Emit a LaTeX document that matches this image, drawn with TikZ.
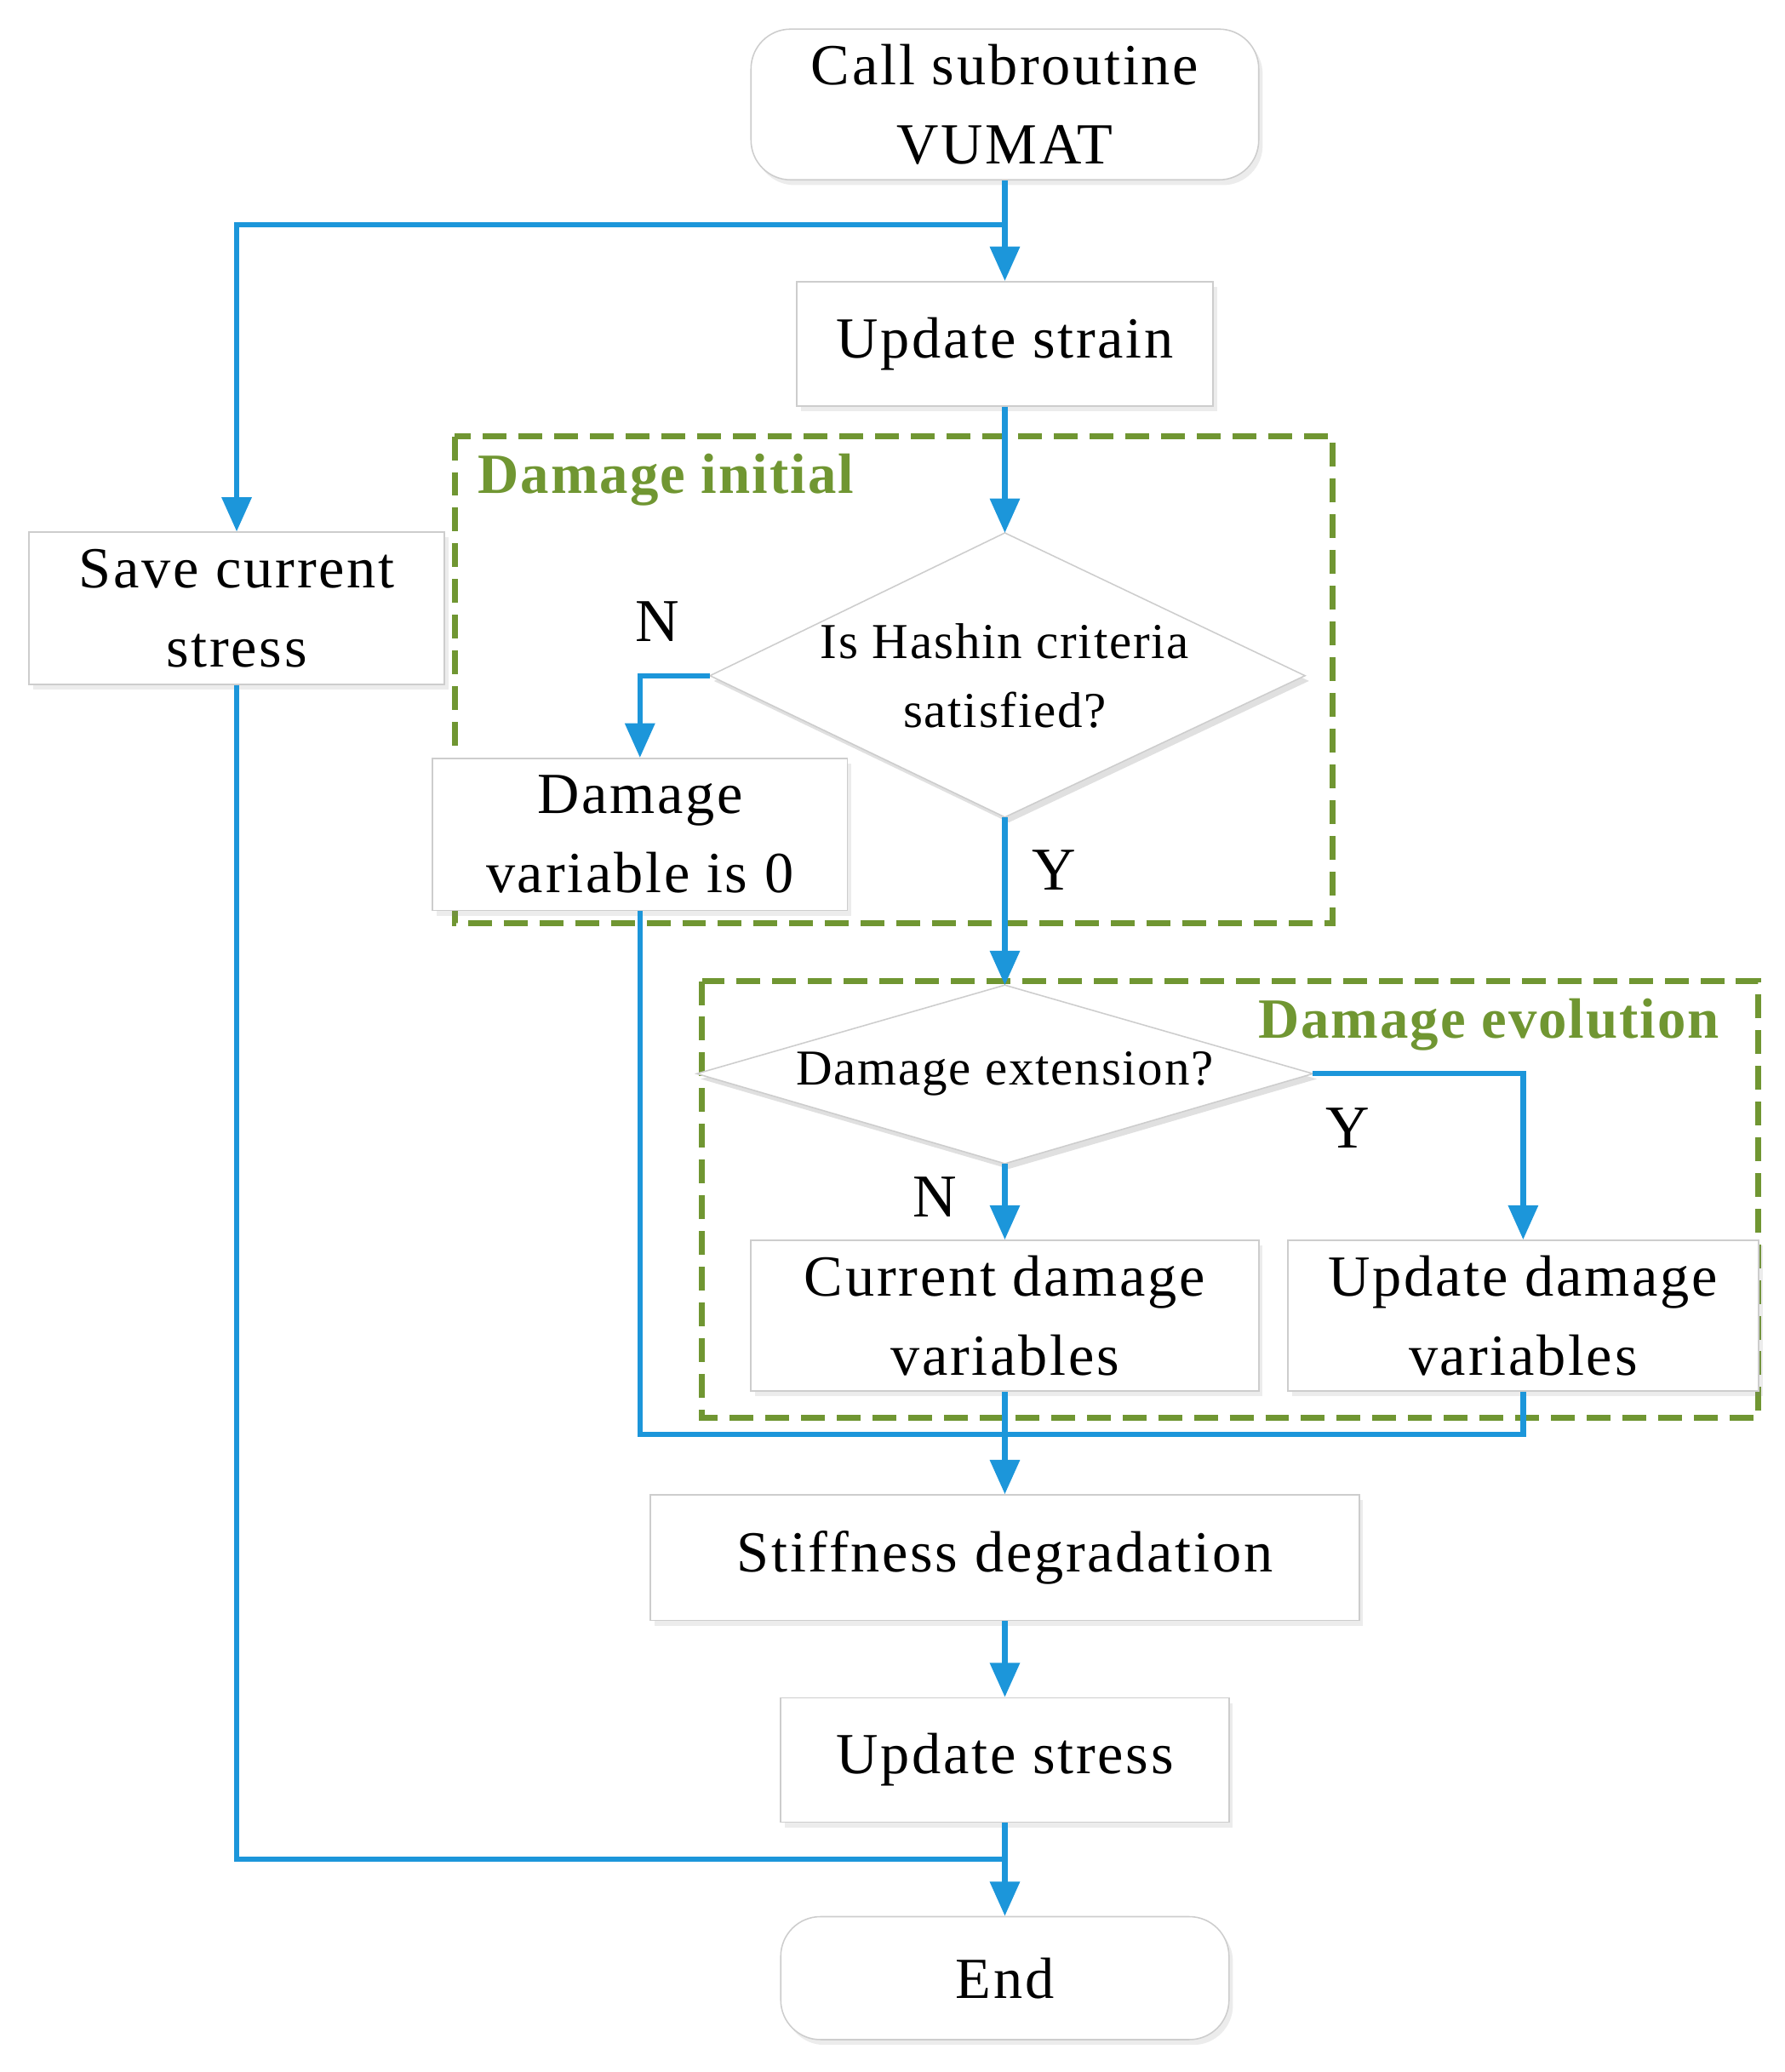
\documentclass[tikz,border=0pt]{standalone}
\usepackage{fontspec}
\setmainfont{Liberation Serif}
\usetikzlibrary{arrows.meta,shadows}
\definecolor{fblue}{RGB}{28,150,218}
\definecolor{fgreen}{RGB}{112,150,50}
\definecolor{bgray}{RGB}{205,205,205}
\begin{document}
\begin{tikzpicture}[x=1pt,y=-1pt,
  box/.style={draw=bgray,line width=1pt,fill=white,align=center,font=\fontsize{44}{60}\selectfont\addfontfeatures{LetterSpace=4},
    drop shadow={shadow xshift=3pt,shadow yshift=-4pt,opacity=0.15},inner sep=0pt},
  rbox/.style={box,rounded corners=30pt},
  con/.style={draw=fblue,line width=4pt},
  arr/.style={con,-{Triangle[length=26pt,width=22pt]}},
  grp/.style={draw=fgreen,line width=4.5pt,dash pattern=on 18pt off 9pt},
  glab/.style={text=fgreen,font=\fontsize{43}{48}\selectfont\bfseries\addfontfeatures{LetterSpace=3}},
  lab/.style={font=\fontsize{46}{50}\selectfont},
  dtext/.style={align=center,font=\fontsize{38}{52}\selectfont\addfontfeatures{LetterSpace=3}}]
\useasboundingbox (0,0) rectangle (1350,1567);
% groups
\draw[grp] (344,330) rectangle (1008,698);
\draw[grp] (531,742) rectangle (1330,1072);
\node[glab,anchor=west] at (358,363) {Damage initial};
\node[glab,anchor=east] at (1304,775) {Damage evolution};
% nodes
\node[rbox,minimum width=384pt,minimum height=114pt] (call) at (760,79) {Call subroutine\\VUMAT};
\node[box,minimum width=315pt,minimum height=94pt] (us) at (760,260) {Update strain};
\node[box,minimum width=314pt,minimum height=115pt] (save) at (179,460) {Save current\\stress};
\coordinate (d1t) at (760,403); \coordinate (d1b) at (760,618);
\coordinate (d1l) at (537,511); \coordinate (d1r) at (987,511);
\fill[black,opacity=0.12] ([shift={(3,4)}]d1t) -- ([shift={(3,4)}]d1r) -- ([shift={(3,4)}]d1b) -- ([shift={(3,4)}]d1l) -- cycle;
\draw[bgray,line width=1pt,fill=white] (d1t) -- (d1r) -- (d1b) -- (d1l) -- cycle;
\node[dtext] (d1) at (760,511) {Is Hashin criteria\\satisfied?};
\node[box,minimum width=314pt,minimum height=115pt] (dv) at (484,631) {Damage\\variable is 0};
\coordinate (d2t) at (760,745); \coordinate (d2b) at (760,880);
\coordinate (d2l) at (527,812); \coordinate (d2r) at (993,812);
\fill[black,opacity=0.12] ([shift={(3,4)}]d2t) -- ([shift={(3,4)}]d2r) -- ([shift={(3,4)}]d2b) -- ([shift={(3,4)}]d2l) -- cycle;
\draw[bgray,line width=1pt,fill=white] (d2t) -- (d2r) -- (d2b) -- (d2l) -- cycle;
\node[dtext] (d2) at (760,812) {Damage extension?};
\node[box,minimum width=384pt,minimum height=114pt] (cd) at (760,995) {Current damage\\variables};
\node[box,minimum width=356pt,minimum height=114pt] (ud) at (1152,995) {Update damage\\variables};
\node[box,minimum width=536pt,minimum height=95pt] (sd) at (760,1178) {Stiffness degradation};
\node[box,minimum width=339pt,minimum height=94pt] (ust) at (760,1331) {Update stress};
\node[rbox,minimum width=339pt,minimum height=93pt] (end) at (760,1496) {End};
% connectors
\coordinate (j1) at (760,170);
\draw[arr] (call.south) -- (us.north);
\draw[arr] (j1) -| (save.north);
\draw[arr] (us.south) -- (d1t);
\draw[arr] (d1l) -| (dv.north);
\draw[arr] (d1b) -- (d2t);
\draw[arr] (d2b) -- (cd.north);
\draw[arr] (d2r) -| (ud.north);
\coordinate (j2) at (760,1085);
\draw[con] (dv.south) |- (j2);
\draw[con] (ud.south) |- (j2);
\draw[arr] (cd.south) -- (sd.north);
\draw[arr] (sd.south) -- (ust.north);
\draw[arr] (ust.south) -- (end.north);
\coordinate (j3) at (760,1406);
\draw[con] (save.south) |- (j3);
% labels
\node[lab] at (497,470) {N};
\node[lab] at (797,658) {Y};
\node[lab] at (707,905) {N};
\node[lab] at (1019,853) {Y};
\end{tikzpicture}
\end{document}
